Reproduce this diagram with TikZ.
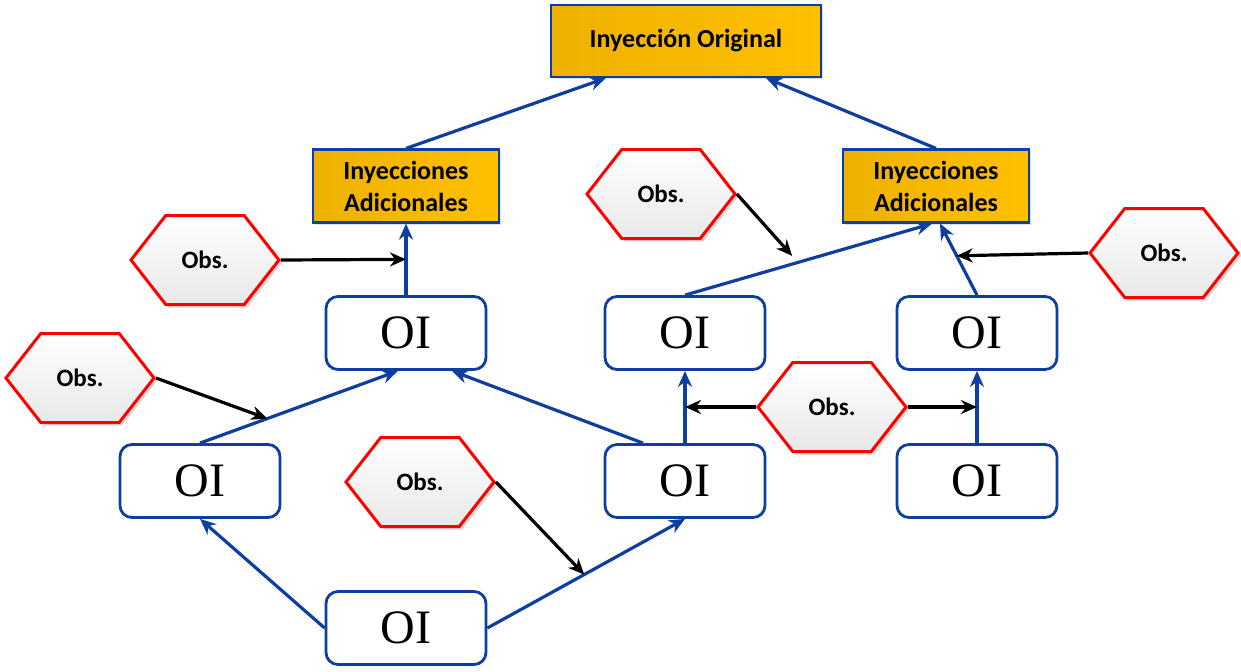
\documentclass[tikz,border=0pt]{standalone}
\usepackage{fontspec}
\setmainfont{Carlito}
\newfontfamily\oifont{Liberation Serif}
\usetikzlibrary{arrows.meta, shapes.symbols, shadows}
\definecolor{oiblue}{HTML}{0E3E9F}
\definecolor{obsred}{HTML}{FF0000}
\definecolor{iogold}{HTML}{FFC000}
\definecolor{iogolddark}{HTML}{EEB100}

\begin{document}
\begin{tikzpicture}[
    gold/.style={draw=oiblue, line width=1.1pt, left color=iogolddark, right color=iogold, inner sep=0pt,
        align=center, font=\bfseries\fontsize{13}{16}\selectfont,
        drop shadow={shadow xshift=1pt, shadow yshift=-1pt, opacity=0.25}},
    oibox/.style={draw=oiblue, line width=1.4pt, rounded corners=6pt, fill=white,
        minimum width=80pt, minimum height=36.5pt, inner sep=0pt, font=\oifont\fontsize{24}{24}\selectfont},
    obs/.style={signal, signal to=east and west, signal pointer angle=104, draw=obsred, line width=1.5pt,
        top color=white, bottom color=gray!18, minimum width=74pt, minimum height=44.5pt, inner sep=0pt,
        font=\bfseries\fontsize{12.5}{15}\selectfont,
        drop shadow={shadow xshift=1.5pt, shadow yshift=-1.5pt, opacity=0.3}},
    flow/.style={-{Stealth[length=8pt, width=7pt]}, line width=1.6pt, oiblue},
    hit/.style={-{Stealth[length=8pt, width=7pt]}, line width=1.6pt, black},
    x=0.5pt, y=-0.5pt]

    \useasboundingbox (0,0) rectangle (1241,671);

    % ================= injections =================
    \node[gold, minimum width=135pt, minimum height=36pt] (io) at (686,41) {Inyección Original};
    \node[gold, minimum width=93pt, minimum height=36.5pt] (adl) at (406,186) {Inyecciones\\Adicionales};
    \node[gold, minimum width=93pt, minimum height=36.5pt] (adr) at (936,186) {Inyecciones\\Adicionales};

    % ================= OI boxes =================
    \node[oibox] (oi1) at (406,333) {OI};
    \node[oibox] (oi2) at (685,333) {OI};
    \node[oibox] (oi3) at (977,333) {OI};
    \node[oibox] (oi4) at (200,481) {OI};
    \node[oibox] (oi5) at (685,481) {OI};
    \node[oibox] (oi6) at (977,481) {OI};
    \node[oibox] (oi7) at (406,628) {OI};

    % ================= observations =================
    \node[obs] (obs1) at (205,260) {Obs.};
    \node[obs] (obs2) at (661,194) {Obs.};
    \node[obs] (obs3) at (1164,253) {Obs.};
    \node[obs] (obs4) at (80,378) {Obs.};
    \node[obs] (obs5) at (832,407) {Obs.};
    \node[obs] (obs6) at (420,482) {Obs.};

    % the flow goes up to the original injection -
    \draw[flow] (adl.north) -- ([xshift=28pt]io.south west);
    \draw[flow] (adr.north) -- ([xshift=-28pt]io.south east);
    \draw[flow] (oi1) -- coordinate[pos=0.5] (m3) (adl);
    \draw[flow] (oi4.north) -- coordinate[pos=0.34] (m4) ([xshift=-4pt]oi1.south);
    \draw[flow] ([xshift=-21pt]oi5.north) -- ([xshift=23pt]oi1.south);
    \draw[flow] (oi7.west) -- (oi4.south);
    \draw[flow] (oi7.east) -- coordinate[pos=0.49] (m7) (oi5.south);
    \draw[flow] (oi5) -- coordinate[pos=0.5] (m8) (oi2);
    \draw[flow] (oi6) -- coordinate[pos=0.5] (m11) (oi3);
    \draw[flow] (oi2.north) -- coordinate[pos=0.45] (m9) ([xshift=-2pt]adr.south);
    \draw[flow] (oi3.north) -- coordinate[pos=0.55] (m10) ([xshift=2pt]adr.south);

    % each observation points at a link -
    \draw[hit] (obs1.east) -- (m3);
    \draw[hit] (obs4.east) -- (m4);
    \draw[hit] (obs2.east) -- ([shift={(-2pt,3.5pt)}]m9);
    \draw[hit] (obs3.west) -- (m10);
    \draw[hit] (obs5.west) -- (m8);
    \draw[hit] (obs5.east) -- (m11);
    \draw[hit] (obs6.east) -- (m7);
\end{tikzpicture}
\end{document}
